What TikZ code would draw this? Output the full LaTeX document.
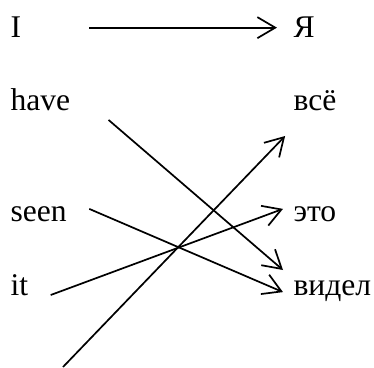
\documentclass[tikz,border=0pt]{standalone}
\usepackage{fontspec}
\setmainfont{Liberation Serif}
\usetikzlibrary{arrows.meta}
\begin{document}
\begin{tikzpicture}[
  x=0.38pt, y=-0.38pt,
  font=\fontsize{12}{14}\selectfont,
  word/.style={inner sep=0pt, anchor=base west},
  link/.style={-{Straight Barb[length=6.8pt, width=8pt]}, line width=0.65pt}
]
\useasboundingbox (0,0) rectangle (374,367);

\node[word] (i) at (10,38) {I};
\node[word] (have) at (10,111) {have};
\node[word] (seen) at (10,221) {seen};
\node[word] (it) at (10,295) {it};

\node[word] (ja) at (293,38) {Я};
\node[word] (vse) at (293,111) {всё};
\node[word] (eto) at (293,221) {это};
\node[word] (videl) at (293,295) {видел};

\coordinate (free) at (63,367);

\draw[link] ([xshift=25.8pt]i.east) -- ([xshift=-6.1pt]ja.west);
\draw[link] ([xshift=14.4pt, yshift=-3.4pt]have.base east) -- ([xshift=-3.8pt, yshift=9.5pt]videl.base west);
\draw[link] ([xshift=8.4pt, yshift=4.6pt]seen.base east) -- ([xshift=-3.8pt, yshift=1.1pt]videl.base west);
\draw[link] ([xshift=8.4pt]it.base east) -- ([xshift=-3.8pt, yshift=4.6pt]eto.base west);
\draw[link] (free) -- ([xshift=-3pt, yshift=-9.5pt]vse.base west);
\end{tikzpicture}
\end{document}
